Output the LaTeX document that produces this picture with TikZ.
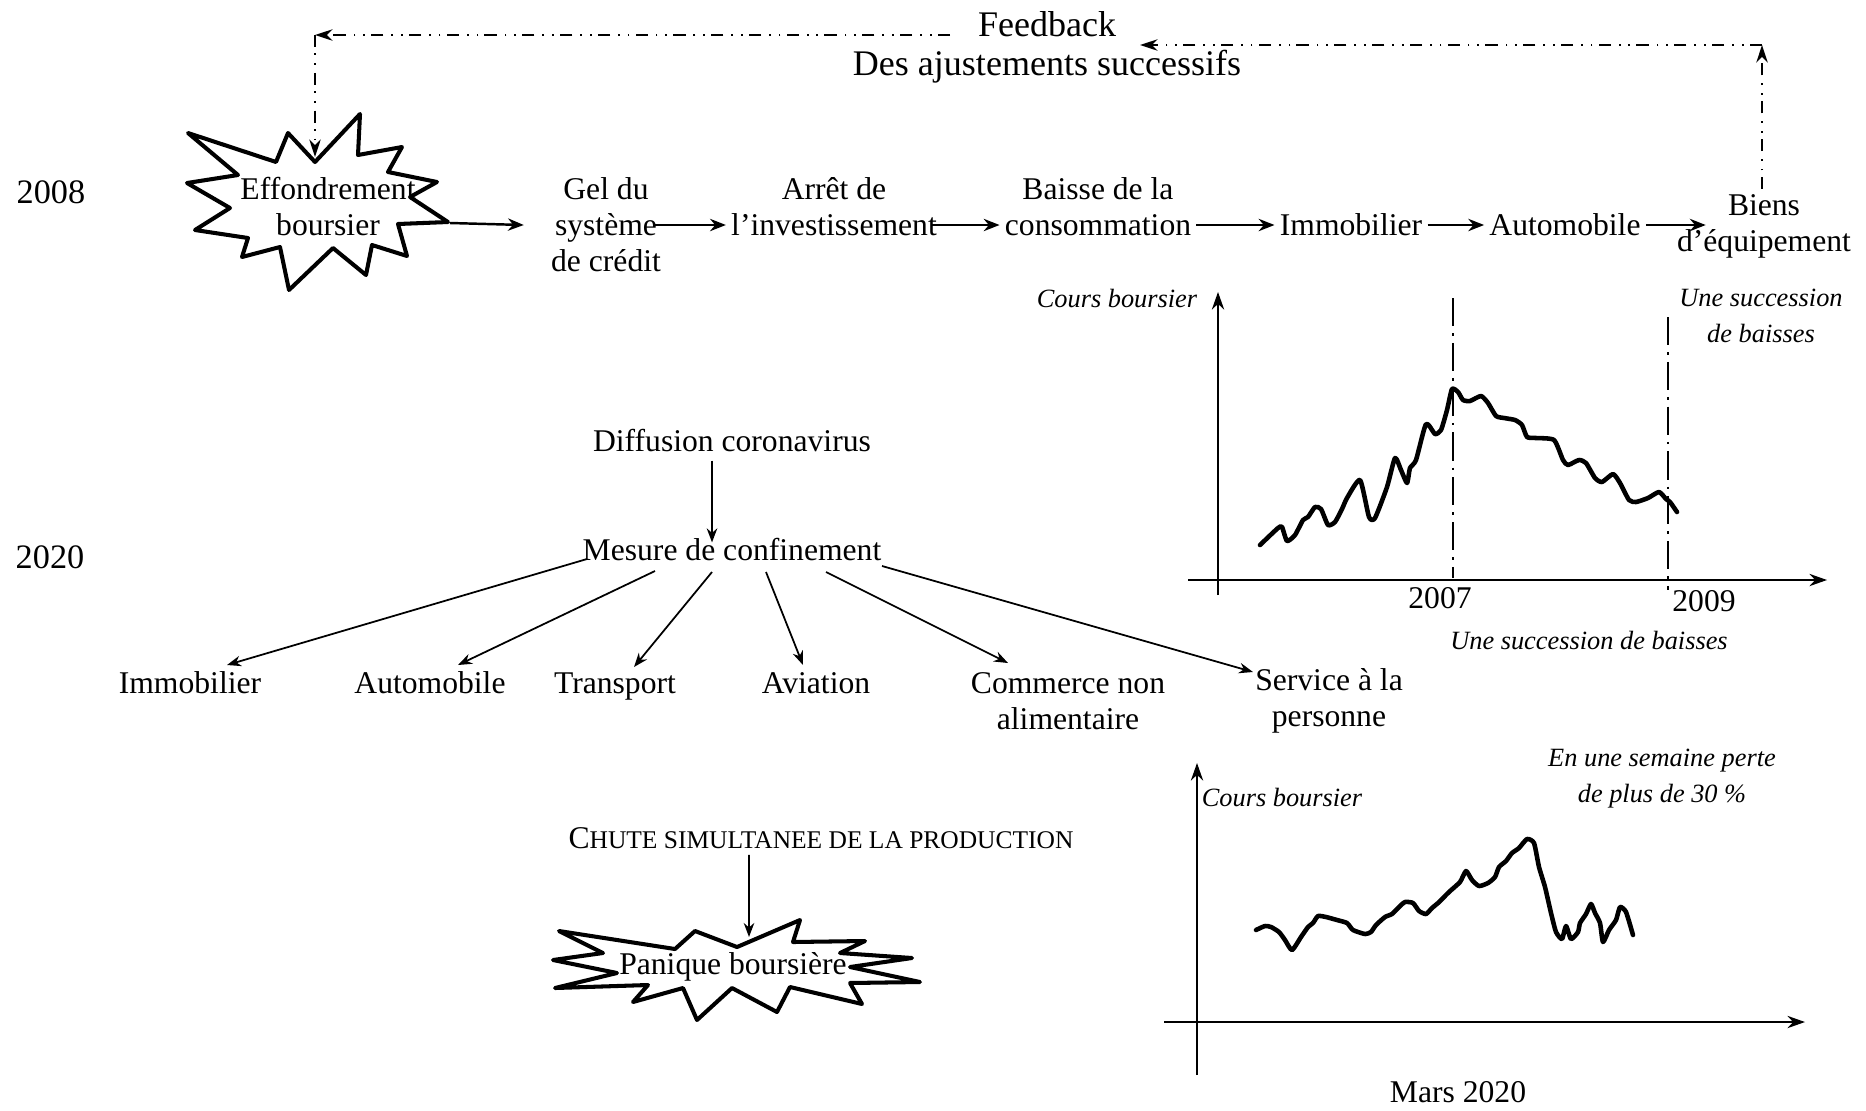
\documentclass[tikz,border=0pt]{standalone}
\usepackage{fontspec}
\setmainfont{Liberation Serif}
\usetikzlibrary{arrows.meta,calc}

\begin{document}
\begin{tikzpicture}[x=0.02cm, y=-0.02cm, font=\fontsize{18}{20.5}\selectfont,
	lbl/.style={align=center, inner sep=0.1cm},
	word/.style={lbl, text height=0.72em, text depth=0.22em},
	note/.style={align=center, inner sep=0pt, font=\fontsize{15}{20.5}\selectfont\itshape},
	big/.style={inner sep=0pt, font=\fontsize{20.5}{24}\selectfont},
	flow/.style={-{Stealth[length=9pt,width=7pt]}, line width=1.4pt},
	link/.style={-{Stealth[length=8pt,width=6pt]}, line width=1pt},
	fb/.style={-{Stealth[length=10pt,width=6.5pt]}, line width=1.2pt, dash pattern=on 7pt off 3.5pt on 1pt off 4.5pt on 1pt off 4.5pt},
	burst/.style={line width=2.3pt, line join=round, fill=white},
	axis/.style={-{Stealth[length=10pt,width=7pt]}, line width=1.1pt},
	cours/.style={line width=2.6pt, line join=round, line cap=round},
	yearLine/.style={line width=1.1pt, dash pattern=on 16pt off 4pt on 1.5pt off 4pt}]
\useasboundingbox (0,0) rectangle (1866,1110);

% 2008
\node[font=\fontsize{19.5}{22}\selectfont](year2008) at (51,192){2008};
\draw[burst] (188,133) -- (276,162) -- (288,133) -- (315,162) -- (360,114) -- (358,155) -- (402,147) -- (388,172) -- (437,182) -- (410,197) -- (448,222) -- (398,224) -- (407,256) -- (372,245) -- (366,275) -- (333,248) -- (289,290) -- (280,247) -- (242,257) -- (248,238) -- (195,230) -- (230,208) -- (187,183) -- (238,175) -- cycle;
\node[lbl](effond) at (328,207){Effondrement\\boursier};
\coordinate (effondTip) at (450,223);
\coordinate (effondTop) at (315,157);

\node[lbl](gel) at (606,225){Gel du\\système\\de crédit};
\node[lbl](arret) at (834,207){Arrêt de\\l’investissement};
\node[lbl](baisse) at (1098,207){Baisse de la\\consommation};
\node[lbl](immo) at (1351,225){Immobilier};
\node[lbl](auto) at (1565,225){Automobile};
\node[lbl](biens) at (1764,226){Biens\\d’équipement};

\draw[flow] (effondTip) -- ([xshift=-0.44cm]gel.west);
\draw[flow] ([xshift=-0.25cm]gel.east) -- (arret.west |- immo.west);
\draw[flow] ([xshift=-0.2cm]arret.east |- immo.east) -- (baisse.west |- immo.west);
\draw[flow] (baisse.east |- immo.east) -- (immo.west);
\draw[flow] (immo.east) -- (auto.west);
\draw[flow] (auto.east) -- ([xshift=0.68cm]biens.west |- auto.east);

% feedback
\coordinate (fbCornerR) at (1762,45);
\coordinate (fbEndR) at (1140,45);
\coordinate (fbStartL) at (950,35);
\coordinate (fbCornerL) at (315,35);
\draw[fb] (biens.north -| fbCornerR) -- (fbCornerR);
\draw[fb] (fbCornerR) -- (fbEndR);
\draw[fb] (fbStartL) -- (fbCornerL);
\draw[fb] (fbCornerL) -- (effondTop);
\node[big](feedback) at (1047,24){Feedback};
\node[big](ajust) at (1047,67){Des ajustements successifs};

% cours 2007-2009
\draw[axis] (1218,595) -- (1218,292);
\draw[axis] (1188,580) -- (1827,580);
\draw[yearLine] (1453,298) -- (1453,578);
\draw[yearLine] (1668,317) -- (1668,590);
\node[note](cours1) at (1117,298){Cours boursier};
\node(y2007) at (1440,598){2007};
\node(y2009) at (1704,601){2009};
\node[note](succ1) at (1589,640){Une succession de baisses};
\node[note](succ2) at (1761,316){Une succession\\de baisses};
\draw[cours] plot[smooth, tension=0.35] coordinates {(1260,545) (1278,528) (1282,527) (1287,541) (1295,535) (1303,520) (1308,517) (1315,507) (1321,509) (1328,525) (1335,522) (1342,509) (1347,498) (1360,480) (1369,517) (1375,518) (1387,487) (1395,458) (1401,470) (1407,483) (1410,468) (1416,460) (1426,424) (1435,434) (1441,430) (1447,410) (1452,389) (1458,392) (1463,400) (1470,401) (1481,396) (1488,403) (1496,416) (1504,418) (1515,420) (1522,425) (1527,437) (1536,438) (1554,440) (1563,460) (1568,465) (1579,460) (1586,463) (1595,478) (1602,482) (1613,474) (1620,483) (1629,500) (1636,502) (1648,498) (1659,492) (1666,499) (1670,502) (1677,512)};

% 2020
\node[font=\fontsize{19.5}{22}\selectfont](year2020) at (50,557){2020};
\node[word](diff) at (732,447){Diffusion coronavirus};
\node[word](mesure) at (732,556){Mesure de confinement};
\draw[link] ([xshift=-0.4cm]diff.south) -- ([xshift=-0.4cm]mesure.north);

\node[word](immo2) at (190,689){Immobilier};
\node[word](auto2) at (430,689){Automobile};
\node[word](transport) at (615,689){Transport};
\node[word](aviation) at (816,689){Aviation};
\node[lbl](commerce) at (1068,701){Commerce non\\alimentaire};
\node[lbl](service) at (1329,701){Service à la\\personne};

\draw[link] ($(mesure)+(-145,3)$) -- ($(immo2)+(37,-24)$);
\draw[link] ($(mesure)+(-77,15)$) -- ($(auto2)+(28,-24)$);
\draw[link] ($(mesure)+(-20,16)$) -- ($(transport)+(19,-22)$);
\draw[link] ($(mesure)+(34,16)$) -- ($(aviation)+(-13,-24)$);
\draw[link] ($(mesure)+(94,16)$) -- ($(commerce)+(-60,-38)$);
\draw[link] ($(mesure)+(150,10)$) -- ($(service)+(-76,-29)$);

\node(chute) at (821,838){C{\fontsize{14.5}{16}\selectfont HUTE SIMULTANEE DE LA PRODUCTION}};
\draw[burst] (559,931) -- (675,949) -- (695,931) -- (737,947) -- (800,920) -- (793,942) -- (865,941) -- (840,953) -- (912,958) -- (850,967) -- (920,982) -- (850,983) -- (862,1004) -- (790,987) -- (777,1012) -- (732,988) -- (697,1020) -- (683,988) -- (633,1002) -- (648,985) -- (555,988) -- (617,973) -- (553,960) -- (603,953) -- cycle;
\node[inner sep=0pt](panique) at (733,967){Panique boursière};
\draw[link] ([xshift=-1.44cm]chute.south) -- ($(panique)+(16,-30)$);

% cours mars 2020
\draw[axis] (1197,1075) -- (1197,763);
\draw[axis] (1164,1022) -- (1805,1022);
\node[note](cours2) at (1282,797){Cours boursier};
\node[note](perte) at (1662,779){En une semaine perte\\de plus de 30 \%};
\node[inner sep=0pt](mars) at (1458,1092){Mars 2020};
\draw[cours] plot[smooth, tension=0.35] coordinates {(1256,930) (1265,926) (1271,927) (1279,932) (1285,940) (1292,950) (1301,937) (1308,927) (1313,923) (1318,916) (1326,917) (1337,920) (1347,923) (1353,930) (1365,934) (1371,932) (1376,925) (1385,917) (1392,914) (1399,907) (1405,902) (1413,903) (1419,911) (1426,914) (1432,908) (1438,903) (1449,892) (1460,882) (1466,871) (1472,880) (1479,886) (1488,883) (1495,877) (1499,867) (1506,861) (1512,853) (1519,848) (1527,839) (1534,843) (1539,867) (1545,887) (1551,913) (1556,932) (1562,939) (1566,926) (1571,939) (1578,932) (1580,923) (1586,914) (1591,904) (1595,913) (1600,923) (1603,942) (1609,930) (1616,920) (1620,907) (1626,912) (1633,935)};
\end{tikzpicture}
\end{document}
